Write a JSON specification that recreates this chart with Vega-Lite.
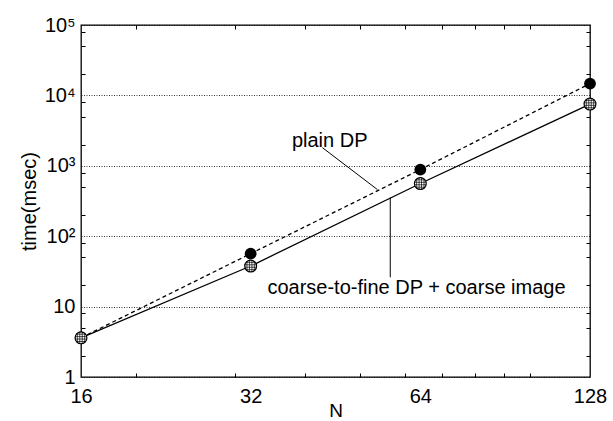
{
  "$schema": "https://vega.github.io/schema/vega-lite/v6.json",
  "autosize": {"type": "none"},
  "padding": {"left": 81, "top": 25, "right": 23, "bottom": 44},
  "width": 509,
  "height": 352,
  "background": "white",
  "config": {
    "font": "Liberation Sans",
    "view": {"stroke": "black", "strokeWidth": 1.3},
    "axis": {"labelFont": "Liberation Sans", "titleFont": "Liberation Sans", "labelColor": "black", "titleColor": "black", "titleFontWeight": "normal", "tickColor": "black", "tickWidth": 1}
  },
  "datasets": {
    "timing": [
      {"N": 16, "time": 3.6, "method": "plain DP"},
      {"N": 32, "time": 56.5, "method": "plain DP"},
      {"N": 64, "time": 884, "method": "plain DP"},
      {"N": 128, "time": 14700, "method": "plain DP"},
      {"N": 16, "time": 3.6, "method": "coarse-to-fine DP + coarse image"},
      {"N": 32, "time": 37.7, "method": "coarse-to-fine DP + coarse image"},
      {"N": 64, "time": 560, "method": "coarse-to-fine DP + coarse image"},
      {"N": 128, "time": 7530, "method": "coarse-to-fine DP + coarse image"}
    ],
    "leaders": [
      {"N": 42.9, "t": 1811, "N2": 53.7, "t2": 460},
      {"N": 56.6, "t": 354, "N2": 56.6, "t2": 26.1}
    ],
    "labels": [
      {"N": 44.2, "t": 1871, "label": "plain DP"},
      {"N": 63, "t": 15.0, "label": "coarse-to-fine DP + coarse image"}
    ]
  },
  "resolve": {"axis": {"x": "independent", "y": "independent"}},
  "layer": [
    {
      "data": {"name": "timing"},
      "transform": [{"filter": "datum.method == 'plain DP'"}],
      "mark": {"type": "line", "color": "black", "strokeWidth": 1.3, "strokeDash": [4, 3]},
      "encoding": {
        "x": {"field": "N", "type": "quantitative",
              "scale": {"type": "log", "base": 2, "domain": [16, 128], "nice": false},
              "axis": {"orient": "bottom", "values": [16, 32, 64, 128], "ticks": false, "tickSize": 0, "domain": false, "grid": false,
                       "labelFontSize": 20, "labelPadding": 9, "labelFlush": false, "labelOverlap": false,
                       "title": "N", "titleFontSize": 19, "titlePadding": -5}},
        "y": {"field": "time", "type": "quantitative",
              "scale": {"type": "log", "domain": [1, 100000], "nice": false},
              "axis": {"orient": "left", "values": [1, 10, 100, 1000, 10000, 100000], "ticks": false, "tickSize": 0, "domain": false,
                       "grid": true, "gridColor": "black", "gridDash": [1, 1.5], "gridWidth": 0.8,
                       "labelFontSize": 20, "labelPadding": 6, "labelFlush": false, "labelOverlap": false,
                       "labelExpr": "datum.value == 1 ? '1' : datum.value == 10 ? '10' : datum.value == 100 ? '10²' : datum.value == 1000 ? '10³' : datum.value == 10000 ? '10⁴' : '10⁵'",
                       "title": "time(msec)", "titleFontSize": 20, "titlePadding": 5}}
      }
    },
    {
      "data": {"name": "timing"},
      "transform": [{"filter": "datum.method != 'plain DP'"}],
      "mark": {"type": "line", "color": "black", "strokeWidth": 1.3},
      "encoding": {
        "x": {"field": "N", "type": "quantitative",
              "scale": {"type": "log", "base": 2, "domain": [16, 128], "nice": false},
              "axis": {"orient": "bottom", "values": [20, 30, 40, 50, 60, 70, 80, 90, 100], "tickSize": -4, "labels": false, "domain": false, "grid": false, "title": null}},
        "y": {"field": "time", "type": "quantitative",
              "scale": {"type": "log", "domain": [1, 100000], "nice": false},
              "axis": {"orient": "left", "values": [2, 5, 8, 20, 50, 80, 200, 500, 800, 2000, 5000, 8000, 20000, 50000, 80000], "tickSize": -4, "labels": false, "domain": false, "grid": false, "title": null}}
      }
    },
    {
      "data": {"name": "timing"},
      "transform": [{"filter": "datum.method == 'plain DP'"}],
      "mark": {"type": "point", "shape": "circle", "filled": true, "color": "black", "size": 140, "opacity": 1},
      "encoding": {
        "x": {"field": "N", "type": "quantitative",
              "scale": {"type": "log", "base": 2, "domain": [16, 128], "nice": false},
              "axis": {"orient": "top", "values": [20, 30, 40, 50, 60, 70, 80, 90, 100], "tickSize": -4, "labels": false, "domain": false, "grid": false, "title": null}},
        "y": {"field": "time", "type": "quantitative",
              "scale": {"type": "log", "domain": [1, 100000], "nice": false},
              "axis": {"orient": "right", "values": [2, 5, 8, 20, 50, 80, 200, 500, 800, 2000, 5000, 8000, 20000, 50000, 80000], "tickSize": -4, "labels": false, "domain": false, "grid": false, "title": null}}
      }
    },
    {
      "data": {"name": "timing"},
      "transform": [{"filter": "datum.method != 'plain DP'"}],
      "mark": {"type": "point", "shape": "circle", "filled": true, "fill": "white", "stroke": "black", "strokeWidth": 1.2, "size": 140, "opacity": 1},
      "encoding": {
        "x": {"field": "N", "type": "quantitative", "scale": {"type": "log", "base": 2, "domain": [16, 128], "nice": false}, "axis": null},
        "y": {"field": "time", "type": "quantitative", "scale": {"type": "log", "domain": [1, 100000], "nice": false}, "axis": null}
      }
    },
    {
      "data": {"name": "timing"},
      "transform": [{"filter": "datum.method != 'plain DP'"}],
      "mark": {"type": "point", "filled": false, "stroke": "black", "strokeWidth": 0.7, "size": 150, "opacity": 1,
               "shape": "M -0.6 -0.8 L -0.6 0.8 M -0.2 -0.98 L -0.2 0.98 M 0.2 -0.98 L 0.2 0.98 M 0.6 -0.8 L 0.6 0.8 M -0.8 -0.6 L 0.8 -0.6 M -0.98 -0.2 L 0.98 -0.2 M -0.98 0.2 L 0.98 0.2 M -0.8 0.6 L 0.8 0.6"},
      "encoding": {
        "x": {"field": "N", "type": "quantitative", "scale": {"type": "log", "base": 2, "domain": [16, 128], "nice": false}, "axis": null},
        "y": {"field": "time", "type": "quantitative", "scale": {"type": "log", "domain": [1, 100000], "nice": false}, "axis": null}
      }
    },
    {
      "data": {"name": "leaders"},
      "mark": {"type": "rule", "color": "black", "strokeWidth": 1},
      "encoding": {
        "x": {"field": "N", "type": "quantitative", "scale": {"type": "log", "base": 2, "domain": [16, 128], "nice": false}, "axis": null},
        "y": {"field": "t", "type": "quantitative", "scale": {"type": "log", "domain": [1, 100000], "nice": false}, "axis": null},
        "x2": {"field": "N2"},
        "y2": {"field": "t2"}
      }
    },
    {
      "data": {"name": "labels"},
      "mark": {"type": "text", "font": "Liberation Sans", "fontSize": 20, "color": "black", "align": "center", "baseline": "alphabetic"},
      "encoding": {
        "x": {"field": "N", "type": "quantitative", "scale": {"type": "log", "base": 2, "domain": [16, 128], "nice": false}, "axis": null},
        "y": {"field": "t", "type": "quantitative", "scale": {"type": "log", "domain": [1, 100000], "nice": false}, "axis": null},
        "text": {"field": "label"}
      }
    }
  ]
}
